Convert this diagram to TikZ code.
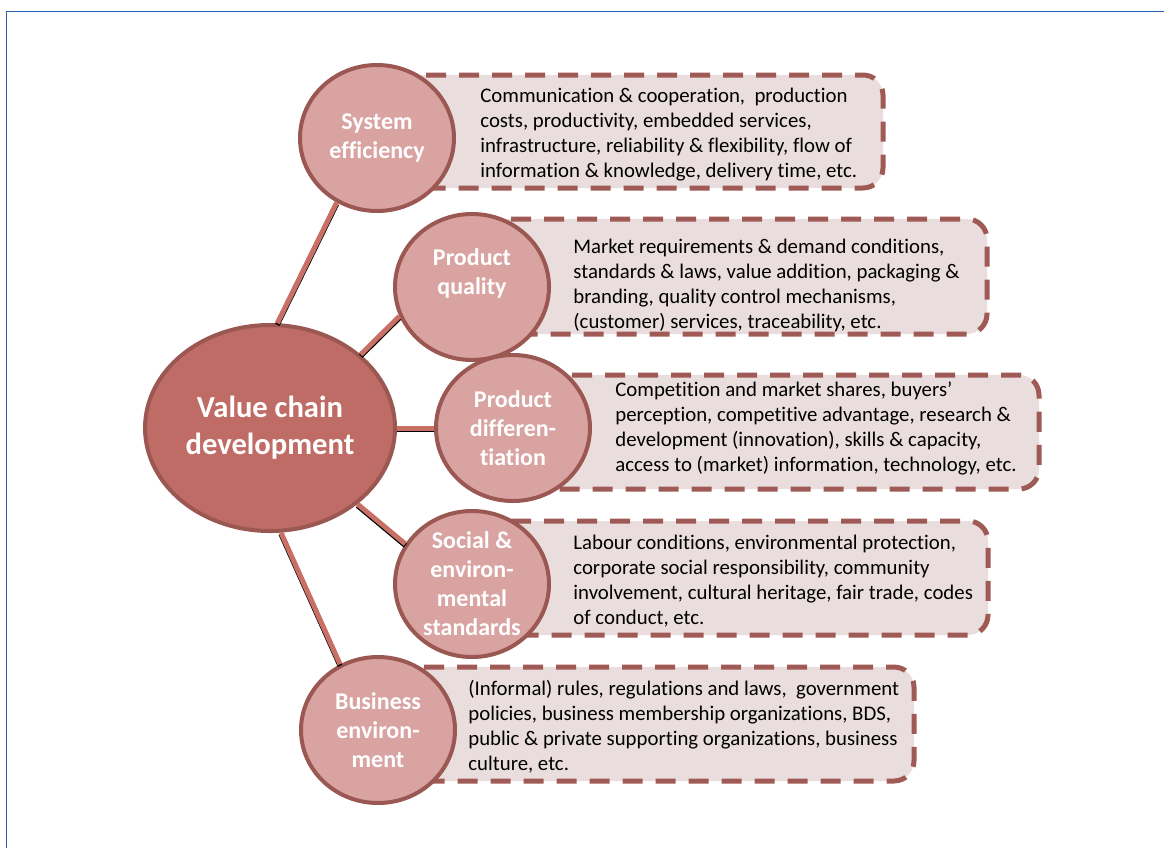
\documentclass[tikz,border=0pt]{standalone}
\usepackage{fontspec}
\setmainfont{Carlito}[Ligatures=NoCommon]
\usepackage{tikz}
\usetikzlibrary{shapes.geometric}
\definecolor{hubred}{RGB}{192,108,102}
\definecolor{rimred}{RGB}{155,87,82}
\definecolor{topicred}{RGB}{217,163,162}
\definecolor{boxpink}{RGB}{234,221,222}
\definecolor{dashred}{RGB}{160,90,86}
\definecolor{linkred}{RGB}{200,112,102}
\definecolor{frameblue}{RGB}{40,95,175}

\begin{document}
\begin{tikzpicture}[x=0.5pt,y=-0.5pt,
  hubnode/.style={ellipse,draw=rimred,line width=2pt,fill=hubred,text=white,align=center,inner sep=0pt,
    minimum width=125pt,minimum height=103pt,font=\bfseries\fontsize{15.3}{18.5}\selectfont},
  topicnode/.style={ellipse,draw=rimred,line width=2pt,fill=topicred,inner sep=0pt,minimum width=77pt,minimum height=73pt},
  topictext/.style={text=white,align=center,inner sep=0pt,font=\bfseries\fontsize{12}{14.5}\selectfont},
  infobox/.style={fill=boxpink,draw=dashred,line width=2.5pt,dash pattern=on 10pt off 6.5pt,rounded corners=10pt},
  infotext/.style={anchor=west,align=left,inner sep=0pt,font=\fontsize{10.4}{12.5}\selectfont},
  link/.style={draw=linkred,line width=2.5pt},
  linkshade/.style={draw=black,line width=2.5pt}]

  \useasboundingbox (0,0) rectangle (1164,848);
  \draw[frameblue,line width=0.75pt] (6.5,848) -- (6.5,11.5) -- (1164,11.5);

  % dashed boxes behind the circles
  \path[infobox] (378,75) rectangle (883,188);
  \path[infobox] (472,219) rectangle (987,334);
  \path[infobox] (513,375) rectangle (1039,489);
  \path[infobox] (472,521) rectangle (988,635);
  \path[infobox] (378,667) rectangle (914,781);

  \node[infotext] (t1) at (480,135) {Communication \& cooperation,\ \ production\\costs, productivity, embedded services,\\infrastructure, reliability \& flexibility, flow of\\information \& knowledge, delivery time, etc.};
  \node[infotext] (t2) at (573,285) {Market requirements \& demand conditions,\\standards \& laws, value addition, packaging \&\\branding, quality control mechanisms,\\(customer) services, traceability, etc.};
  \node[infotext] (t3) at (615,428) {Competition and market shares, buyers'\\perception, competitive advantage, research \&\\development (innovation), skills \& capacity,\\access to (market) information, technology, etc.};
  \node[infotext] (t4) at (573,581) {Labour conditions, environmental protection,\\corporate social responsibility, community\\involvement, cultural heritage, fair trade, codes\\of conduct, etc.};
  \node[infotext] (t5) at (468,727) {(Informal) rules, regulations and laws,\ \ government\\policies, business membership organizations, BDS,\\public \& private supporting organizations, business\\culture, etc.};

  % hub and topics
  \node[hubnode] (vc) at (270,428) {Value chain\\development};
  \node[topicnode,label={[topictext]center:System\\efficiency}] (se) at (377,138) {};
  \node[topicnode,label={[topictext,yshift=7pt]center:Product\\quality}] (pq) at (472,287) {};
  \node[topicnode,label={[topictext]center:Product\\differen-\\tiation}] (pd) at (513,428) {};
  \node[topicnode,label={[topictext]center:Social \&\\environ-\\mental\\standards}] (sn) at (472,584) {};
  \node[topicnode,label={[topictext]center:Business\\environ-\\ment}] (be) at (378,730) {};

  \begin{scope}[transform canvas={shift={(0pt,-0.8pt)}}]
    \foreach \a/\b in {vc.86/se.238, vc.39/pq.202, vc.east/pd.west, vc.-41/sn.149, vc.-84/be.120}
      \draw[linkshade] (\a) -- (\b);
  \end{scope}
  \foreach \a/\b in {vc.86/se.238, vc.39/pq.202, vc.east/pd.west, vc.-41/sn.149, vc.-84/be.120}
    \draw[link] (\a) -- (\b);
\end{tikzpicture}
\end{document}
